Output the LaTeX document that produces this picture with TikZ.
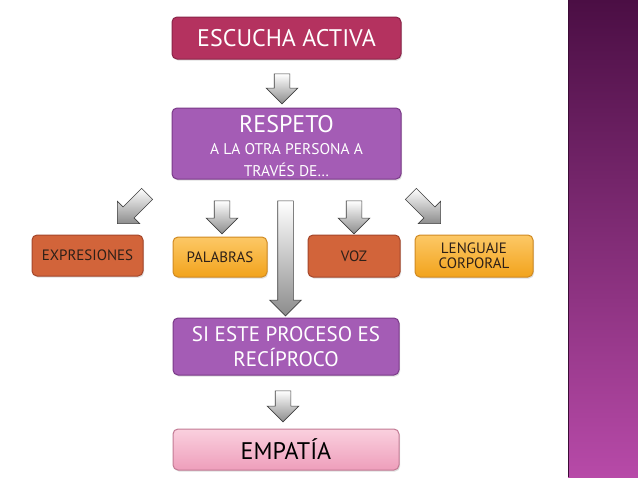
\documentclass[tikz,border=0pt]{standalone}
\usepackage{fontspec}
\setmainfont{PT Sans}
\usetikzlibrary{shapes.arrows,shadows}

\definecolor{rosa}{HTML}{B4325F}
\definecolor{rosarand}{HTML}{8A2447}
\definecolor{lila}{HTML}{A45CB5}
\definecolor{lilarand}{HTML}{7A3A88}
\definecolor{orange1}{HTML}{D2643A}
\definecolor{orangerand}{HTML}{A4462A}
\definecolor{gold1}{HTML}{FCC866}
\definecolor{gold2}{HTML}{F2A31C}
\definecolor{goldrand}{HTML}{D08A22}
\definecolor{pink1}{HTML}{FAD0DE}
\definecolor{pink2}{HTML}{EE9EBB}
\definecolor{pinkrand}{HTML}{C27A94}
\definecolor{balken1}{HTML}{4B0E44}
\definecolor{balken2}{HTML}{B74AA8}
\definecolor{schrift}{HTML}{2E2018}

\begin{document}
\begin{tikzpicture}[x=1pt,y=-1pt]
	%Rahmen
	\useasboundingbox (0,0) rectangle (638,479);
	\fill[white] (0,0) rectangle (638,479);
	\shade[top color=balken1, bottom color=balken2] (568,0) rectangle (638,477);
	\draw[balken1!80!black, line width=1.2pt] (568.6,0) -- (568.6,477);

	\tikzset{box/.style = {rounded corners=5pt, line width=1pt, drop shadow={opacity=0.25, shadow xshift=1pt, shadow yshift=-1.5pt}}};
	\tikzset{rosabox/.style = {box, fill=rosa, draw=rosarand, text=white}};
	\tikzset{lilabox/.style = {box, fill=lila, draw=lilarand, text=white}};
	\tikzset{orangebox/.style = {box, fill=orange1, draw=orangerand, text=schrift}};
	\tikzset{goldbox/.style = {box, top color=gold1, bottom color=gold2, draw=goldrand, text=schrift}};
	\tikzset{pinkbox/.style = {box, top color=pink1, bottom color=pink2, draw=pinkrand, text=black}};
	\tikzset{pfeil/.style = {single arrow, draw=black!75, line width=0.6pt, top color=white, bottom color=black!45, inner sep=7.5pt, single arrow head extend=8pt, single arrow head indent=0pt, shape border rotate=270}};
	\tikzset{klein/.style = {font=\fontsize{15}{15}\selectfont}};

	%Kaesten
	\node[rosabox, minimum width=229, minimum height=42, font=\fontsize{24}{24}\selectfont] (escucha) at (286.5,38) {ESCUCHA ACTIVA};
	\node[lilabox, minimum width=229, minimum height=71] (respeto) at (286.5,143.5) {};
	\node[text=white, align=center, font=\fontsize{15.5}{22}\selectfont, inner sep=0pt] (respetotxt) at (286.5,146) {{\fontsize{24}{22}\selectfont RESPETO}\\A LA OTRA PERSONA A\\TRAVÉS  DE…};
	\node[orangebox, klein, minimum width=111, minimum height=41] (expresiones) at (87.5,255.5) {EXPRESIONES};
	\node[goldbox, klein, minimum width=94, minimum height=40] (palabras) at (220,257) {PALABRAS};
	\node[orangebox, klein, minimum width=92, minimum height=42] (voz) at (354,256) {VOZ};
	\node[goldbox, klein, minimum width=118, minimum height=42, align=center] (lenguaje) at (474,256) {LENGUAJE\\CORPORAL};
	\node[lilabox, minimum width=226, minimum height=57, align=center, font=\fontsize{21}{25}\selectfont] (proceso) at (286,346.5) {SI ESTE PROCESO ES\\RECÍPROCO};
	\node[pinkbox, minimum width=226, minimum height=41, font=\fontsize{24}{24}\selectfont] (empatia) at (286,449.5) {EMPATÍA};

	%Pfeile
	\node[pfeil, minimum height=30] (p1) at (282,85) {};
	\node[pfeil, rotate=-45, minimum height=42] (p2) at (135,206) {};
	\node[pfeil, minimum height=33] (p3) at (222,213.5) {};
	\node[pfeil, minimum height=115] (p4) at (285.5,254.5) {};
	\node[pfeil, minimum height=33] (p5) at (354,213.5) {};
	\node[pfeil, rotate=45, minimum height=42] (p6) at (423,206) {};
	\node[pfeil, minimum height=31] (p7) at (283,402.5) {};
\end{tikzpicture}
\end{document}
